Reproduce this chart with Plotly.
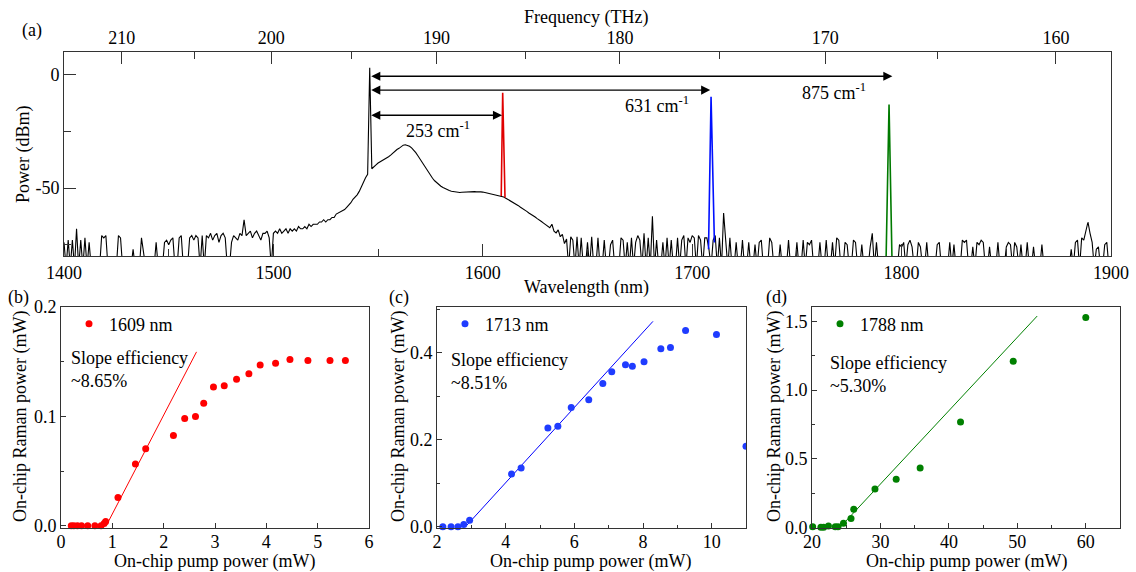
import plotly.graph_objects as go

# ---------------- data: panel (a) spectrum ----------------
spec_start_nm = 1400
spec_power_dbm = [
    # 1400-1409
    -74, -85, -73, -85, -73, -85, -68, -85, -73, -85,
    # 1410
    -72, -85, -74, -85, -85, -85, -85, -85, -71, -72,
    # 1420
    -71, -85, -85, -85, -85, -85, -71, -72, -85, -85,
    # 1430
    -85, -85, -85, -77, -85, -85, -85, -72, -78, -85,
    # 1440
    -85, -85, -85, -85, -74, -85, -85, -85, -74, -73,
    # 1450
    -75, -73, -72, -85, -85, -72, -71, -85, -85, -85,
    # 1460
    -72, -71, -73, -71, -72, -85, -71, -85, -71, -72,
    # 1470
    -70, -73, -71, -70, -74, -71, -70, -72, -85, -85,
    # 1480
    -74, -71, -72, -73, -70, -71, -64, -71, -70, -69,
    # 1490
    -72, -70, -69, -71, -73, -70, -70, -69, -72, -85,
    # 1500
    -70, -69, -70, -68, -70, -69, -68, -70, -68, -69,
    # 1510
    -68, -69, -67, -68, -68, -67, -68, -66, -67, -66,
    # 1520
    -66, -66, -65, -65, -64, -65, -64, -64, -63, -63,
    # 1530
    -61.5, -61, -60.5, -60, -59.5, -58.5, -57.5, -56.5, -55, -54,
    # 1540
    -53, -51.5, -49.5, -47, -45.5, -44, 3, -41.5, -40.5, -39.8,
    # 1550
    -39, -38.5, -38, -37.3, -36.8, -36.2, -35.5, -34.6, -33.7, -33,
    # 1560
    -32.5, -31.6, -31.1, -30.9, -31.1, -31.6, -32.3, -33.3, -34.4, -35.8,
    # 1570
    -37.3, -38.8, -40.3, -41.8, -43.2, -44.5, -45.7, -46.8, -47.7, -48.5,
    # 1580
    -49.2, -49.8, -50.3, -50.7, -51.1, -51.4, -51.6, -51.8, -51.9, -52.0,
    # 1590
    -51.9, -51.8, -51.8, -51.7, -51.6, -51.6, -51.6, -51.7, -51.6, -51.7,
    # 1600
    -51.8, -52.0, -52.1, -52.3, -52.5, -52.7, -52.9, -53.1, -53.4, -53.6,
    # 1610
    -54.0, -54.5, -55.0, -55.6, -56.1, -56.5, -57.0, -57.8, -58.5, -59.0,
    # 1620
    -59.6, -60.3, -61.0, -61.5, -62.0, -62.8, -63.5, -64.0, -64.8, -65.5,
    # 1630
    -66.2, -66.8, -67.5, -66.0, -69.0, -69.8, -68.5, -71.5, -70.5, -74.5,
    # 1640
    -72.5, -85, -71.5, -73, -85, -71.5, -85, -72, -85, -85,
    # 1650
    -74, -85, -71.5, -85, -85, -72, -85, -85, -73, -85,
    # 1660
    -85, -75, -73, -85, -85, -85, -72, -73, -85, -74,
    # 1670
    -85, -72, -85, -74, -71, -73, -85, -70, -85, -72,
    # 1680
    -85, -62.5, -85, -73, -85, -85, -74, -85, -72, -85,
    # 1690
    -73, -85, -85, -72, -85, -73, -71, -85, -72, -74,
    # 1700
    -71, -72, -85, -71, -73, -85, -72, -72, -77, -85,
    # 1710
    -73, -71, -85, -72, -85, -61, -73, -85, -72, -85,
    # 1720
    -85, -74, -85, -85, -73, -85, -85, -74, -85, -85,
    # 1730
    -75, -85, -74, -73, -85, -85, -85, -72, -74, -85,
    # 1740
    -85, -85, -75, -85, -85, -85, -73, -85, -85, -85,
    # 1750
    -74, -85, -85, -73, -85, -74, -75, -73, -85, -85,
    # 1760
    -85, -74, -85, -85, -73, -85, -85, -74, -85, -72,
    # 1770
    -73, -85, -85, -74, -75, -85, -85, -73, -74, -85,
    # 1780
    -85, -75, -85, -85, -85, -76, -70, -85, -74, -85,
    # 1790
    -85, -85, -85, -85, -85, -85, -85, -85, -85, -75,
    # 1800
    -76, -74, -85, -75, -73, -76, -85, -85, -74, -76,
    # 1810
    -85, -85, -74, -85, -85, -85, -85, -75, -74, -85,
    # 1820
    -85, -85, -85, -74, -85, -75, -85, -85, -85, -73,
    # 1830
    -74, -73, -85, -85, -76, -85, -74, -75, -73, -74,
    # 1840
    -85, -85, -76, -85, -85, -85, -74, -85, -85, -85,
    # 1850
    -76, -74, -75, -85, -74, -76, -85, -75, -85, -85,
    # 1860
    -74, -85, -85, -76, -85, -85, -85, -75, -85, -85,
    # 1870
    -85, -85, -85, -85, -85, -85, -85, -85, -85, -85,
    # 1880
    -85, -77, -85, -74, -73, -85, -72, -73, -69, -65,
    # 1890
    -70, -74, -85, -77, -76, -85, -85, -75, -74, -85,
    # 1900
    -85,
]
spec_wl_nm = [spec_start_nm + i for i in range(len(spec_power_dbm))]

# Raman lines (coloured)
red_wl = [1608.8, 1609.5, 1610.6]
red_dbm = [-53.5, -8.0, -54.2]
blue_wl = [1707.8, 1709.0, 1710.6]
blue_dbm = [-77.0, -9.8, -74.0]
green_wl = [1792.6, 1794.0, 1795.4]
green_dbm = [-81.0, -13.2, -81.0]

# shift arrows
pump_nm = 1546.0
arrow_end_nm = [1609.2, 1708.6, 1795.6]
arrow_dbm = [-17.9, -6.8, -0.7]
shift_labels = ["253 cm<sup>-1</sup>", "631 cm<sup>-1</sup>", "875 cm<sup>-1</sup>"]
label_nm = [1578.5, 1683.0, 1767.5]
label_dbm = [-24.0, -13.3, -7.3]

wl_ticks = [1400, 1500, 1600, 1700, 1800, 1900]
freq_ticks = [210, 200, 190, 180, 170, 160]
freq_minor = [205, 195, 185, 175, 165]
dbm_ticks = [-50, 0]
dbm_ticktext = ["-50", "0"]

# ---------------- data: panels (b)-(d) ----------------
b_pump = [0.20, 0.25, 0.32, 0.40, 0.52, 0.66, 0.78, 0.84, 0.87, 1.11, 1.45, 1.65,
          2.19, 2.41, 2.62, 2.78, 2.97, 3.18, 3.42, 3.66, 3.88, 4.18, 4.46, 4.81, 5.24, 5.54]
b_raman = [0.0, 0.0, 0.0, 0.0, 0.0, 0.0, 0.0, 0.002, 0.004, 0.0258, 0.0566, 0.0705,
           0.0825, 0.098, 0.100, 0.112, 0.1268, 0.128, 0.134, 0.139, 0.147, 0.1486, 0.152, 0.151, 0.151, 0.151]
b_fit_x = [0.88, 2.64]
b_fit_y = [0.0, 0.159]

c_pump = [2.17, 2.41, 2.61, 2.78, 2.95, 4.17, 4.45, 5.23, 5.52, 5.91, 6.42, 6.83,
          7.09, 7.49, 7.69, 8.03, 8.52, 8.80, 9.24, 10.14]
c_raman = [0.0, 0.0, 0.0, 0.005, 0.015, 0.121, 0.135, 0.227, 0.231, 0.274, 0.292, 0.329,
           0.356, 0.372, 0.369, 0.379, 0.409, 0.412, 0.451, 0.442]
c_edge_pump = [11.0]
c_edge_raman = [0.185]
c_fit_x = [2.83, 8.29]
c_fit_y = [0.0, 0.472]

d_pump = [20.1, 21.3, 21.7, 22.4, 23.4, 23.8, 24.6, 25.7, 26.1, 29.2, 32.3, 35.8, 41.7, 49.4, 60.0]
d_raman = [0.005, 0.0, 0.0, 0.01, 0.005, 0.005, 0.03, 0.065, 0.131, 0.279, 0.35, 0.432, 0.767, 1.209, 1.529]
d_fit_x = [24.1, 52.9]
d_fit_y = [0.0, 1.539]

# ---------------- figure ----------------
W, H = 1136, 572
FONT = "Liberation Serif, Times New Roman, DejaVu Serif, serif"
AX = "#333333"


def px(x):
    """screen x (pixels) -> paper fraction"""
    return x / W


def py(y):
    """screen y (pixels) -> paper fraction"""
    return 1 - y / H


fig = go.Figure()

# panel (a)
fig.add_trace(go.Scatter(x=spec_wl_nm, y=spec_power_dbm, mode="lines",
                         line=dict(color="black", width=1.1), showlegend=False,
                         xaxis="x", yaxis="y"))
fig.add_trace(go.Scatter(x=red_wl, y=red_dbm, mode="lines",
                         line=dict(color="#e00000", width=1.6), showlegend=False,
                         xaxis="x", yaxis="y"))
fig.add_trace(go.Scatter(x=blue_wl, y=blue_dbm, mode="lines",
                         line=dict(color="#0010ff", width=1.6), showlegend=False,
                         xaxis="x", yaxis="y"))
fig.add_trace(go.Scatter(x=green_wl, y=green_dbm, mode="lines",
                         line=dict(color="#007a00", width=1.6), showlegend=False,
                         xaxis="x", yaxis="y"))
fig.add_trace(go.Scatter(x=[], y=[], xaxis="x2", yaxis="y", showlegend=False))

# panel (b)
fig.add_trace(go.Scatter(x=b_fit_x, y=b_fit_y, mode="lines", line=dict(color="#ff0000", width=1),
                         showlegend=False, xaxis="x3", yaxis="y3"))
fig.add_trace(go.Scatter(x=b_pump, y=b_raman, mode="markers", name="1609 nm",
                         marker=dict(color="#ff0000", size=7), cliponaxis=False,
                         xaxis="x3", yaxis="y3", legend="legend"))
# panel (c)
fig.add_trace(go.Scatter(x=c_fit_x, y=c_fit_y, mode="lines", line=dict(color="#0000ff", width=1),
                         showlegend=False, xaxis="x4", yaxis="y4"))
fig.add_trace(go.Scatter(x=c_pump, y=c_raman, mode="markers", name="1713 nm",
                         marker=dict(color="#1f3cff", size=7), cliponaxis=False,
                         xaxis="x4", yaxis="y4", legend="legend2"))
fig.add_trace(go.Scatter(x=c_edge_pump, y=c_edge_raman, mode="markers", showlegend=False,
                         marker=dict(color="#1f3cff", size=7), cliponaxis=True,
                         xaxis="x4", yaxis="y4"))
# panel (d)
fig.add_trace(go.Scatter(x=d_fit_x, y=d_fit_y, mode="lines", line=dict(color="#008000", width=1),
                         showlegend=False, xaxis="x5", yaxis="y5"))
fig.add_trace(go.Scatter(x=d_pump, y=d_raman, mode="markers", name="1788 nm",
                         marker=dict(color="#008000", size=7), cliponaxis=False,
                         xaxis="x5", yaxis="y5", legend="legend3"))

C_LIGHT = 299792.458  # nm*THz
freq_pos = [C_LIGHT / f for f in freq_ticks]
freq_minor_pos = [C_LIGHT / f for f in freq_minor]

tickfont = dict(family=FONT, size=18, color="black")
common = dict(showgrid=False, zeroline=False, showline=True, linecolor=AX, linewidth=1,
              ticks="inside", tickcolor=AX, tickfont=tickfont, automargin=False,
              ticklabeloverflow="allow")

top_dom_x = [px(64), px(1111)]
top_dom_y = [py(256), py(52)]
low_dom_y = [py(528), py(307)]

fig.update_layout(
    template="none",
    width=W, height=H,
    margin=dict(l=0, r=0, t=0, b=0, autoexpand=False),
    paper_bgcolor="white", plot_bgcolor="white",
    font=dict(family=FONT, size=18, color="black"),
    xaxis=dict(common, domain=top_dom_x, range=[1400, 1900], anchor="y",
               tickvals=wl_ticks, ticklen=12,
               minor=dict(dtick=50, tick0=1400, ticks="inside", ticklen=7, tickcolor=AX)),
    xaxis2=dict(common, overlaying="x", side="top", anchor="y", range=[1400, 1900],
                tickvals=freq_pos, ticktext=[str(f) for f in freq_ticks], ticklen=12,
                minor=dict(tickvals=freq_minor_pos, ticks="inside", ticklen=7, tickcolor=AX)),
    yaxis=dict(common, domain=top_dom_y, range=[-80, 10], anchor="x", mirror=True,
               tickvals=dbm_ticks, ticktext=dbm_ticktext, ticklen=12,
               minor=dict(tickvals=[-75, -25], ticks="inside", ticklen=7, tickcolor=AX)),
    xaxis3=dict(common, domain=[px(61), px(369)], range=[0, 6], anchor="y3", mirror=True,
                dtick=1, ticklen=5, ticklabelstandoff=-3),
    yaxis3=dict(common, domain=low_dom_y, range=[-0.002, 0.2], anchor="x3", mirror=True,
                dtick=0.1, tickformat=".1f", ticklen=5,
                minor=dict(dtick=0.05, ticks="inside", ticklen=3, tickcolor=AX)),
    xaxis4=dict(common, domain=[px(437), px(746)], range=[2, 11], anchor="y4", mirror=True,
                tick0=2, dtick=2, ticklen=5, ticklabelstandoff=-3,
                minor=dict(dtick=1, tick0=2, ticks="inside", ticklen=3, tickcolor=AX)),
    yaxis4=dict(common, domain=low_dom_y, range=[-0.003, 0.505], anchor="x4", mirror=True,
                dtick=0.2, tickformat=".1f", ticklen=5,
                minor=dict(dtick=0.1, ticks="inside", ticklen=3, tickcolor=AX)),
    xaxis5=dict(common, domain=[px(812), px(1120)], range=[20, 65], anchor="y5", mirror=True,
                tick0=20, dtick=10, ticklen=5, ticklabelstandoff=-3,
                minor=dict(dtick=5, tick0=20, ticks="inside", ticklen=3, tickcolor=AX)),
    yaxis5=dict(common, domain=low_dom_y, range=[-0.005, 1.605], anchor="x5", mirror=True,
                dtick=0.5, tickformat=".1f", ticklen=5,
                minor=dict(dtick=0.25, ticks="inside", ticklen=3, tickcolor=AX)),
    legend=dict(x=px(69), y=py(324), xanchor="left", yanchor="middle",
                bgcolor="rgba(0,0,0,0)", font=dict(family=FONT, size=18)),
    legend2=dict(x=px(445), y=py(324), xanchor="left", yanchor="middle",
                 bgcolor="rgba(0,0,0,0)", font=dict(family=FONT, size=18)),
    legend3=dict(x=px(820), y=py(324), xanchor="left", yanchor="middle",
                 bgcolor="rgba(0,0,0,0)", font=dict(family=FONT, size=18)),
)

ann = []
# arrows in (a)
for end, yv in zip(arrow_end_nm, arrow_dbm):
    ann.append(dict(x=end, y=yv, ax=pump_nm, ay=yv, xref="x", yref="y", axref="x", ayref="y",
                    text="", showarrow=True, arrowhead=2, startarrowhead=2, arrowside="end+start",
                    arrowsize=1.4, arrowwidth=1.3, arrowcolor="black", standoff=0, startstandoff=0))
for t, xv, yv in zip(shift_labels, label_nm, label_dbm):
    ann.append(dict(x=xv, y=yv, xref="x", yref="y", text=t, showarrow=False,
                    font=dict(family=FONT, size=18, color="black")))

def txt(text, x, y, angle=0, xanchor="center", align="center"):
    return dict(x=px(x), y=py(y), xref="paper", yref="paper", text=text, showarrow=False,
                textangle=angle, xanchor=xanchor, yanchor="middle", align=align,
                font=dict(family=FONT, size=18, color="black"))

ann += [
    txt("(a)", 32, 31),
    txt("Frequency (THz)", 586, 18),
    txt("Power (dBm)", 24, 154, angle=-90),
    txt("Wavelength (nm)", 586, 287),
    txt("(b)", 18, 297),
    txt("(c)", 399, 297),
    txt("(d)", 776, 297),
    txt("On-chip Raman power (mW)", 20, 417, angle=-90),
    txt("On-chip Raman power (mW)", 398, 417, angle=-90),
    txt("On-chip Raman power (mW)", 774, 417, angle=-90),
    txt("On-chip pump power (mW)", 214, 561),
    txt("On-chip pump power (mW)", 591, 561),
    txt("On-chip pump power (mW)", 966, 561),
    txt("Slope efficiency<br>~8.65%", 69, 369, xanchor="left", align="left"),
    txt("Slope efficiency<br>~8.51%", 449, 371, xanchor="left", align="left"),
    txt("Slope efficiency<br>~5.30%", 828, 374, xanchor="left", align="left"),
]
fig.update_layout(annotations=ann)

fig.write_html("out.html", config={"displayModeBar": False},
               post_script="document.body.style.margin='0';document.body.style.overflow='hidden';")
